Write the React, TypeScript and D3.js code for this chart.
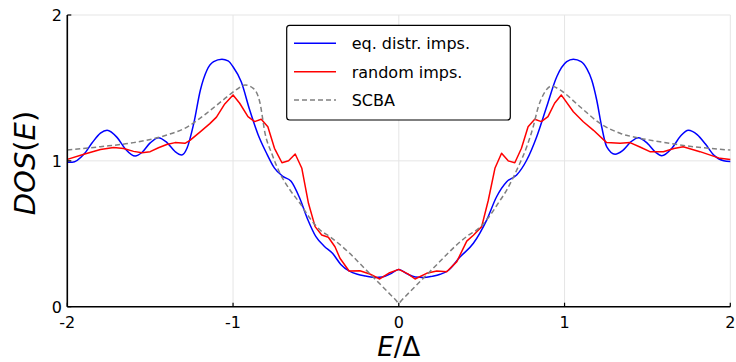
import React from "react";
import * as d3 from "d3";

// E/Δ, DOS pairs
const eqDistr: [number, number][] = [
  [-2.0, 0.99], [-1.97, 0.99], [-1.9, 1.045], [-1.85, 1.124], [-1.8, 1.19], [-1.76, 1.21],
  [-1.7, 1.161], [-1.65, 1.082], [-1.59, 1.033], [-1.55, 1.057], [-1.5, 1.123], [-1.45, 1.159],
  [-1.4, 1.127], [-1.35, 1.064], [-1.31, 1.04], [-1.278, 1.086], [-1.237, 1.257], [-1.197, 1.486],
  [-1.157, 1.623], [-1.117, 1.68], [-1.067, 1.697], [-1.03, 1.685], [-1.0, 1.645], [-0.95, 1.54],
  [-0.9, 1.35], [-0.85, 1.183], [-0.8, 1.057], [-0.75, 0.95], [-0.7, 0.894], [-0.65, 0.86],
  [-0.6, 0.75], [-0.55, 0.6], [-0.5, 0.48], [-0.45, 0.415], [-0.4, 0.366], [-0.35, 0.29],
  [-0.3, 0.245], [-0.25, 0.222], [-0.2, 0.21], [-0.14, 0.2], [-0.1, 0.203], [-0.05, 0.225],
  [0.0, 0.255],
  [0.05, 0.225], [0.1, 0.203], [0.15, 0.2], [0.2, 0.208], [0.25, 0.222], [0.3, 0.25],
  [0.369, 0.34], [0.45, 0.435], [0.53, 0.594], [0.59, 0.754], [0.651, 0.857], [0.711, 0.903],
  [0.772, 1.006], [0.832, 1.166], [0.892, 1.371], [0.953, 1.577], [1.013, 1.68], [1.053, 1.697],
  [1.1, 1.68], [1.135, 1.63], [1.164, 1.554], [1.194, 1.417], [1.224, 1.234], [1.254, 1.097],
  [1.305, 1.045], [1.35, 1.07], [1.4, 1.13], [1.445, 1.159], [1.5, 1.12], [1.55, 1.058],
  [1.586, 1.035], [1.65, 1.09], [1.7, 1.17], [1.747, 1.21], [1.8, 1.18], [1.85, 1.115],
  [1.9, 1.04], [1.96, 1.0], [2.0, 0.995],
];

const randomImps: [number, number][] = [
  [-2.0, 1.01], [-1.9, 1.045], [-1.8, 1.078], [-1.72, 1.092], [-1.66, 1.085], [-1.6, 1.065],
  [-1.55, 1.056], [-1.5, 1.063], [-1.45, 1.09], [-1.4, 1.112], [-1.35, 1.125], [-1.29, 1.12],
  [-1.26, 1.14], [-1.2, 1.197], [-1.14, 1.255], [-1.1, 1.3], [-1.05, 1.39], [-1.0, 1.452],
  [-0.96, 1.395], [-0.91, 1.303], [-0.87, 1.269], [-0.83, 1.285], [-0.79, 1.234], [-0.75, 1.086],
  [-0.705, 0.987], [-0.665, 1.001], [-0.625, 1.047], [-0.585, 0.949], [-0.545, 0.709],
  [-0.505, 0.549], [-0.465, 0.492], [-0.425, 0.476], [-0.385, 0.411], [-0.355, 0.332],
  [-0.3, 0.245], [-0.235, 0.247], [-0.175, 0.224], [-0.115, 0.19], [-0.055, 0.233], [0.0, 0.256],
  [0.055, 0.225], [0.098, 0.19], [0.168, 0.229], [0.229, 0.245], [0.289, 0.24], [0.35, 0.309],
  [0.41, 0.45], [0.45, 0.49], [0.5, 0.549], [0.54, 0.73], [0.58, 0.949], [0.62, 1.052],
  [0.66, 1.0], [0.7, 0.987], [0.74, 1.086], [0.78, 1.234], [0.82, 1.285], [0.86, 1.269],
  [0.9, 1.303], [0.94, 1.395], [0.98, 1.452], [1.053, 1.337], [1.113, 1.268], [1.173, 1.211],
  [1.254, 1.125], [1.335, 1.12], [1.395, 1.125], [1.455, 1.095], [1.515, 1.063], [1.596, 1.063],
  [1.66, 1.085], [1.716, 1.097], [1.817, 1.063], [1.938, 1.017], [2.0, 1.01],
];

const scba: [number, number][] = [
  [-2.0, 1.074], [-1.8, 1.097], [-1.6, 1.125], [-1.4, 1.177], [-1.28, 1.23], [-1.16, 1.326],
  [-1.06, 1.417], [-0.98, 1.488], [-0.928, 1.52], [-0.878, 1.497], [-0.837, 1.395],
  [-0.807, 1.189], [-0.767, 1.052], [-0.717, 0.915], [-0.656, 0.8], [-0.596, 0.709],
  [-0.536, 0.606], [-0.475, 0.526], [-0.415, 0.48], [-0.365, 0.435], [-0.3, 0.37],
  [-0.2, 0.255], [-0.1, 0.14], [-0.02, 0.048], [0.0, 0.025],
  [0.02, 0.048], [0.1, 0.14], [0.2, 0.255], [0.3, 0.37], [0.36, 0.435], [0.42, 0.49],
  [0.48, 0.535], [0.54, 0.61], [0.6, 0.71], [0.651, 0.8], [0.721, 0.96], [0.772, 1.097],
  [0.811, 1.234], [0.842, 1.371], [0.875, 1.46], [0.922, 1.513], [0.973, 1.486], [1.093, 1.371],
  [1.214, 1.257], [1.335, 1.189], [1.455, 1.155], [1.576, 1.131], [1.777, 1.097], [2.0, 1.074],
];

const xTicks = [-2, -1, 0, 1, 2];
const yTicks = [0, 1, 2];
const legendLabels = ["eq. distr. imps.", "random imps.", "SCBA"];

const W = 736;
const H = 362;
const left = 67.3, right = 730.3, top = 15, bottom = 306.7;

export default function App() {
  const x = d3.scaleLinear().domain([-2, 2]).range([left, right]);
  const y = d3.scaleLinear().domain([0, 2]).range([bottom, top]);

  const smooth = d3.line<[number, number]>()
    .x((d) => x(d[0]))
    .y((d) => y(d[1]))
    .curve(d3.curveMonotoneX);
  const jagged = d3.line<[number, number]>()
    .x((d) => x(d[0]))
    .y((d) => y(d[1]));

  const font = "DejaVu Sans, sans-serif";
  const series = [
    { label: legendLabels[0], color: "#0000ff", dash: undefined, d: smooth(eqDistr) },
    { label: legendLabels[1], color: "#ff0000", dash: undefined, d: jagged(randomImps) },
    { label: legendLabels[2], color: "#808080", dash: "5,3", d: smooth(scba) },
  ];

  return (
    <svg
      width={W}
      height={H}
      style={{ position: "absolute", left: 0, top: 0, background: "#fff" }}
      fontFamily={font}
    >
      {/* grid */}
      {xTicks.map((t) => (
        <line key={"gx" + t} x1={x(t)} x2={x(t)} y1={top} y2={bottom} stroke="#e5e5e5" strokeWidth={1} />
      ))}
      {yTicks.map((t) => (
        <line key={"gy" + t} x1={left} x2={right} y1={y(t)} y2={y(t)} stroke="#e5e5e5" strokeWidth={1} />
      ))}

      {/* curves */}
      {series.map((s) => (
        <path key={s.label} d={s.d || ""} fill="none" stroke={s.color} strokeWidth={1.5}
          strokeDasharray={s.dash} strokeLinejoin="round" />
      ))}

      {/* axes */}
      <line x1={left} x2={right} y1={bottom} y2={bottom} stroke="#000" strokeWidth={1.6} />
      <line x1={left} x2={left} y1={top} y2={bottom} stroke="#000" strokeWidth={1.6} />
      {xTicks.map((t) => (
        <g key={"xt" + t}>
          <line x1={x(t)} x2={x(t)} y1={bottom} y2={bottom - 4} stroke="#000" strokeWidth={1.2} />
          <text x={x(t)} y={328} textAnchor="middle" fontSize={16}>{t < 0 ? "-" + Math.abs(t) : t}</text>
        </g>
      ))}
      {yTicks.map((t) => (
        <g key={"yt" + t}>
          <line x1={left} x2={left + 4} y1={y(t)} y2={y(t)} stroke="#000" strokeWidth={1.2} />
          <text x={62} y={y(t) + 6} textAnchor="end" fontSize={16}>{t}</text>
        </g>
      ))}

      {/* axis labels */}
      <text x={398.8} y={356} textAnchor="middle" fontSize={26}>
        <tspan fontStyle="italic">E</tspan>
        <tspan>/Δ</tspan>
      </text>
      <text transform="translate(35,163) rotate(-90)" textAnchor="middle" fontSize={29}>
        <tspan fontStyle="italic">DOS</tspan>
        <tspan>(</tspan>
        <tspan fontStyle="italic">E</tspan>
        <tspan>)</tspan>
      </text>

      {/* legend */}
      <rect x={286.7} y={25.3} width={223.6} height={94.7} rx={3} fill="#fff" stroke="#000" strokeWidth={1.2} />
      {series.map((s, i) => {
        const ly = 43.3 + i * 28.35;
        return (
          <g key={"lg" + i}>
            <line x1={294} x2={336} y1={ly} y2={ly} stroke={s.color} strokeWidth={1.5} strokeDasharray={s.dash} />
            <text x={351.7} y={ly + 6} fontSize={16}>{s.label}</text>
          </g>
        );
      })}
    </svg>
  );
}
